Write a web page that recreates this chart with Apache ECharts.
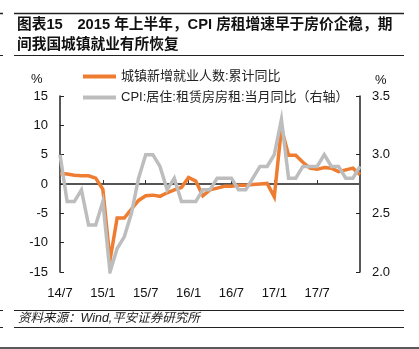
<!DOCTYPE html>
<html>
<head>
<meta charset="utf-8">
<script src="https://cdn.jsdelivr.net/npm/echarts@6/dist/echarts.min.js"></script>
<style>
  html, body { margin: 0; padding: 0; background: #fff; }
  #chart { width: 419px; height: 349px; }
</style>
</head>
<body>
<div id="chart"></div>
<script>
// Monthly categories, 2014/7 – 2018/1
const months = [
  '14/7','14/8','14/9','14/10','14/11','14/12',
  '15/1','15/2','15/3','15/4','15/5','15/6',
  '15/7','15/8','15/9','15/10','15/11','15/12',
  '16/1','16/2','16/3','16/4','16/5','16/6',
  '16/7','16/8','16/9','16/10','16/11','16/12',
  '17/1','17/2','17/3','17/4','17/5','17/6',
  '17/7','17/8','17/9','17/10','17/11','17/12',
  '18/1'
];

// 城镇新增就业人数:累计同比 (%), left axis
const employmentYoY = [
  1.8, 1.7, 1.5, 1.4, 1.4, 1.0,
  -0.9, -13.0, -5.8, -5.8, -4.3, -2.8,
  -2.0, -1.9, -2.1, -1.5, -1.0, -0.6,
  1.1, 0.5, -2.0, -1.0, -0.7, -0.4,
  -0.4, -0.2, -0.2, -0.1, 0.0, 0.1,
  -2.2, 9.5, 4.9, 4.9, 3.7, 2.7,
  2.5, 2.8, 2.7, 2.1, 2.4, 2.7,
  1.6
];

// CPI:居住:租赁房房租:当月同比 (%), right axis
const rentCpiYoY = [
  3.0, 2.6, 2.6, 2.7, 2.4, 2.4,
  2.6, 2.0, 2.2, 2.3, 2.5, 2.8,
  3.0, 3.0, 2.9, 2.7, 2.8, 2.6,
  2.6, 2.6, 2.7, 2.7, 2.8, 2.8,
  2.8, 2.7, 2.7, 2.8, 2.9, 2.9,
  3.0, 3.3, 2.8, 2.8, 2.9, 2.9,
  2.9, 3.0, 2.9, 2.9, 2.8, 2.8,
  2.9
];

const seriesNames = ['城镇新增就业人数:累计同比', 'CPI:居住:租赁房房租:当月同比（右轴）'];
const leftTicks = { min: -15, max: 15, interval: 5 };
const rightTicks = { min: 2.0, max: 3.5, interval: 0.5 };

const FONT = '"Liberation Sans", Arial, "Noto Sans CJK SC", sans-serif';
const labelEvery = (idx) => idx % 6 === 0 && idx <= 36;

const chart = echarts.init(document.getElementById('chart'), null, { renderer: 'canvas' });

chart.setOption({
  animation: false,
  backgroundColor: '#fff',
  textStyle: { fontFamily: FONT },
  title: {
    text: '图表15　2015 年上半年，CPI 房租增速早于房价企稳，期\n间我国城镇就业有所恢复',
    left: 17,
    top: 15,
    padding: 0,
    textStyle: {
      fontFamily: FONT,
      fontSize: 14.7,
      fontWeight: 'bold',
      color: '#111',
      lineHeight: 20
    }
  },
  legend: {
    orient: 'vertical',
    left: 83,
    top: 70,
    padding: 0,
    itemWidth: 33,
    itemHeight: 4,
    itemGap: 8,
    icon: 'rect',
    textStyle: { fontFamily: FONT, fontSize: 13, color: '#222' },
    data: seriesNames
  },
  grid: { left: 60, right: 59, top: 96, bottom: 77 },
  xAxis: [
    {
      type: 'category',
      data: months,
      boundaryGap: false,
      position: 'bottom',
      axisLine: { show: false, onZero: false },
      axisTick: { show: false },
      axisLabel: {
        interval: labelEvery,
        color: '#111',
        fontSize: 13,
        margin: 15,
        fontFamily: FONT
      },
      splitLine: { show: false }
    },
    {
      // the axis line that crosses at zero, with its tick marks
      type: 'category',
      data: months,
      boundaryGap: false,
      position: 'top',
      axisLine: { show: true, onZero: true, onZeroAxisIndex: 0, lineStyle: { color: '#555', width: 2 } },
      axisTick: { show: true, inside: false, length: 4, interval: labelEvery, lineStyle: { color: '#333', width: 1 } },
      axisLabel: { show: false },
      splitLine: { show: false }
    }
  ],
  yAxis: [
    {
      type: 'value',
      position: 'left',
      min: leftTicks.min,
      max: leftTicks.max,
      interval: leftTicks.interval,
      axisLine: { show: true, lineStyle: { color: '#222', width: 1.5 } },
      axisTick: { show: true, inside: true, length: 4, lineStyle: { color: '#222' } },
      axisLabel: { color: '#111', fontSize: 13, margin: 12, fontFamily: FONT },
      splitLine: { show: false }
    },
    {
      type: 'value',
      position: 'right',
      min: rightTicks.min,
      max: rightTicks.max,
      interval: rightTicks.interval,
      axisLine: { show: true, lineStyle: { color: '#222', width: 1.5 } },
      axisTick: { show: true, inside: true, length: 4, lineStyle: { color: '#222' } },
      axisLabel: {
        color: '#111',
        fontSize: 13,
        margin: 12,
        fontFamily: FONT,
        formatter: (v) => v.toFixed(1)
      },
      splitLine: { show: false }
    }
  ],
  series: [
    {
      name: seriesNames[0],
      type: 'line',
      xAxisIndex: 0,
      yAxisIndex: 0,
      data: employmentYoY,
      showSymbol: false,
      symbol: 'none',
      color: '#EE7D31',
      lineStyle: { width: 3.5, color: '#EE7D31', join: 'miter' },
      z: 2
    },
    {
      name: seriesNames[1],
      type: 'line',
      xAxisIndex: 0,
      yAxisIndex: 1,
      data: rentCpiYoY,
      showSymbol: false,
      symbol: 'none',
      color: '#BDBDBD',
      lineStyle: { width: 3.5, color: '#BDBDBD', join: 'miter' },
      z: 3
    }
  ],
  graphic: [
    // unit marks above the axes
    { type: 'text', left: 31, top: 73, style: { text: '%', font: '13px ' + FONT, fill: '#111' } },
    { type: 'text', left: 375, top: 74, style: { text: '%', font: '13px ' + FONT, fill: '#111' } },
    // frame rules around the title and the source note
    { type: 'line', shape: { x1: 14, y1: 13.5, x2: 404, y2: 13.5 }, style: { stroke: '#222', lineWidth: 1.5 } },
    { type: 'line', shape: { x1: 0, y1: 13.5, x2: 3, y2: 13.5 }, style: { stroke: '#222', lineWidth: 1.5 } },
    { type: 'line', shape: { x1: 14, y1: 55.5, x2: 404, y2: 55.5 }, style: { stroke: '#222', lineWidth: 1 } },
    { type: 'line', shape: { x1: 0, y1: 55.5, x2: 3, y2: 55.5 }, style: { stroke: '#222', lineWidth: 1 } },
    { type: 'line', shape: { x1: 14, y1: 310.5, x2: 404, y2: 310.5 }, style: { stroke: '#222', lineWidth: 1 } },
    { type: 'line', shape: { x1: 0, y1: 310.5, x2: 3, y2: 310.5 }, style: { stroke: '#222', lineWidth: 1 } },
    { type: 'line', shape: { x1: 14, y1: 327.5, x2: 404, y2: 327.5 }, style: { stroke: '#222', lineWidth: 1 } },
    { type: 'line', shape: { x1: 0, y1: 327.5, x2: 3, y2: 327.5 }, style: { stroke: '#222', lineWidth: 1 } },
    { type: 'line', shape: { x1: 0, y1: 348, x2: 419, y2: 348 }, style: { stroke: '#222', lineWidth: 1.5 } },
    // source note
    {
      type: 'text', left: 18, top: 312,
      style: { text: '资料来源：Wind,平安证券研究所', font: 'italic 12.5px ' + FONT, fill: '#222' }
    }
  ]
});
</script>
</body>
</html>
